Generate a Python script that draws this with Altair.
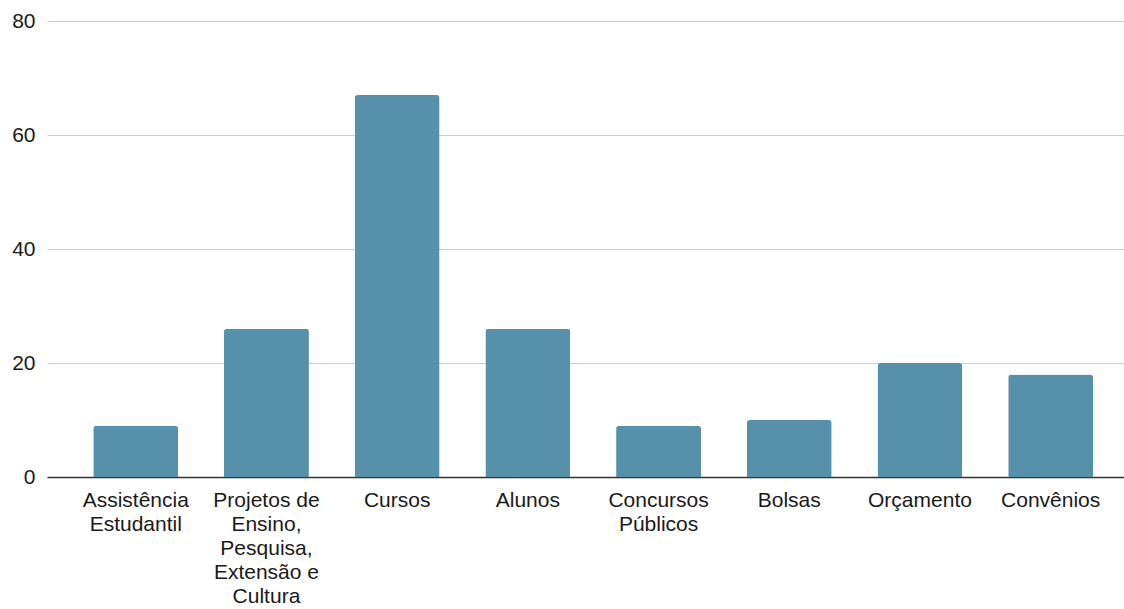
import altair as alt
import pandas as pd

categories = [
    "Assistência\nEstudantil",
    "Projetos de\nEnsino,\nPesquisa,\nExtensão e\nCultura",
    "Cursos",
    "Alunos",
    "Concursos\nPúblicos",
    "Bolsas",
    "Orçamento",
    "Convênios",
]
values = [9, 26, 67, 26, 9, 10, 20, 18]
y_ticks = [0, 20, 40, 60, 80]

df = pd.DataFrame({"categoria": categories, "valor": values})

chart = (
    alt.Chart(df)
    .mark_bar(color="#5790AB", cornerRadiusTopLeft=3, cornerRadiusTopRight=3)
    .encode(
        x=alt.X(
            "categoria:N",
            sort=categories,
            title=None,
            scale=alt.Scale(paddingInner=0.35, paddingOuter=0.295, align=0.6),
            axis=alt.Axis(
                labelAngle=0,
                labelExpr="split(datum.label, '\\n')",
                labelLineHeight=24,
                labelFont="Liberation Sans",
                labelFontSize=21,
                labelColor="#1a1a1a",
                labelPadding=12,
                labelLimit=300,
                ticks=False,
                domainColor="#333333",
                domainWidth=1.5,
                grid=False,
            ),
        ),
        y=alt.Y(
            "valor:Q",
            title=None,
            scale=alt.Scale(domain=[0, 80], nice=False),
            axis=alt.Axis(
                values=y_ticks,
                labelFont="Liberation Sans",
                labelFontSize=21,
                labelColor="#1a1a1a",
                labelPadding=12,
                ticks=False,
                domain=False,
                gridColor="#cccccc",
                gridWidth=1.2,
            ),
        ),
    )
    .properties(
        width=1077,
        height=456,
        background="white",
        autosize=alt.AutoSizeParams(type="none"),
        padding={"left": 47, "top": 21, "right": 0, "bottom": 132},
    )
    .configure_view(strokeWidth=0, stroke=None)
)

chart.save("out.html", embed_options={"renderer": "svg", "actions": False})
